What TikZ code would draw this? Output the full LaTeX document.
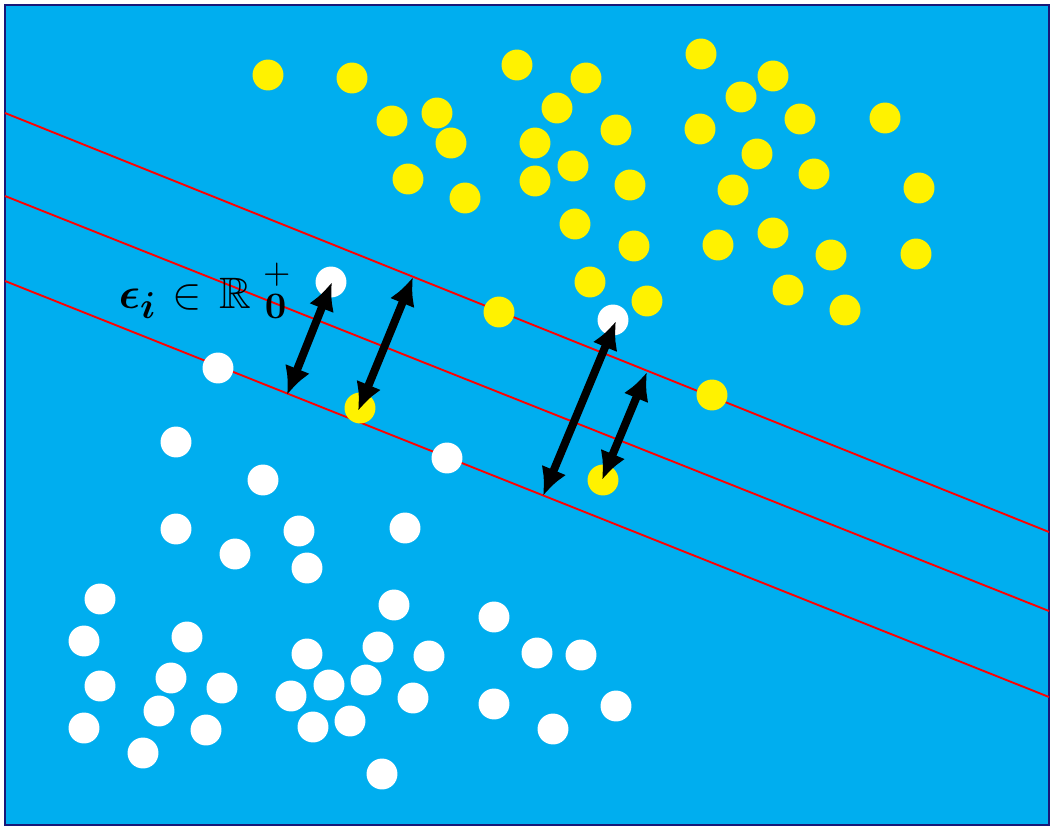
\documentclass[tikz,border=0pt]{standalone}
\usepackage{amsmath}
\usepackage{amssymb}
\usepackage{graphicx}
\usepackage{xcolor}
\usepackage{tikz}
\usetikzlibrary{positioning,arrows.meta}
\definecolor{sea}{RGB}{0,174,239}
\definecolor{navy}{RGB}{24,24,120}
\tikzset{
pos dot/.style={fill=yellow},
neg dot/.style={fill=white},
margin line/.style={draw=red, line width=1.4pt},
slack arrow/.style={draw=black, line width=6pt, {Latex[length=21pt,width=20pt]}-{Latex[length=21pt,width=20pt]}}
}
\begin{document}
\begin{tikzpicture}[x=0.75pt, y=-0.75pt]
\useasboundingbox (0,0) rectangle (1056,828);
\filldraw[fill=sea, draw=navy, line width=1.6pt] (5,5) rectangle (1049,825);
\coordinate (upL) at (5,113); \coordinate (upR) at (1049,532);
\coordinate (midL) at (5,196); \coordinate (midR) at (1049,611);
\coordinate (lowL) at (5,281); \coordinate (lowR) at (1049,697);
\draw[margin line] (upL) -- (upR);
\draw[margin line] (midL) -- (midR);
\draw[margin line] (lowL) -- (lowR);
\foreach \x/\y in {268/75, 352/78, 392/121, 437/113, 451/143, 408/179, 465/198, 517/65, 586/78, 557/108, 535/143, 616/130, 573/166, 535/181, 630/185, 575/224, 634/246, 590/282, 647/301, 499/312, 701/54, 773/76, 741/97, 800/119, 885/118, 700/129, 757/154, 814/174, 733/190, 919/188, 718/245, 773/233, 831/255, 916/254, 788/290, 845/310, 712/395, 360/408, 603/480}
  \fill[pos dot] (\x,\y) circle[radius=11.6pt];
\foreach \x/\y in {331/282, 613/320, 218/368, 176/442, 263/480, 447/458, 176/529, 299/531, 405/528, 235/554, 307/568, 100/599, 394/605, 494/617, 84/641, 187/637, 307/654, 378/647, 429/656, 537/653, 581/655, 100/686, 171/678, 222/688, 291/696, 329/685, 366/680, 413/698, 494/704, 616/706, 84/728, 159/711, 206/730, 313/727, 350/721, 553/729, 143/753, 382/774}
  \fill[neg dot] (\x,\y) circle[radius=11.6pt];
\coordinate (a1) at (332,282); \coordinate (b1) at (287,395);
\coordinate (a2) at (413,277); \coordinate (b2) at (358,411);
\coordinate (a3) at (616,321); \coordinate (b3) at (543,496);
\coordinate (a4) at (647,372); \coordinate (b4) at (602,480);
\draw[slack arrow] (b1) -- (a1);
\draw[slack arrow] (b2) -- (a2);
\draw[slack arrow] (b3) -- (a3);
\draw[slack arrow] (b4) -- (a4);
\node[anchor=base west, inner sep=0pt, scale=3.3] (slack) at (118,308) {$\boldsymbol{\epsilon}\raisebox{-2.3pt}{\scalebox{0.85}{$\boldsymbol{i}$}}\kern4pt{\in}\kern4pt\mathbb{R}\kern3pt\rlap{\kern-0.4pt\raisebox{5.6pt}{\scalebox{0.8}{$+$}}}\raisebox{-2.3pt}{\scalebox{0.85}{$\mathbf{0}$}}$};
\end{tikzpicture}
\end{document}
